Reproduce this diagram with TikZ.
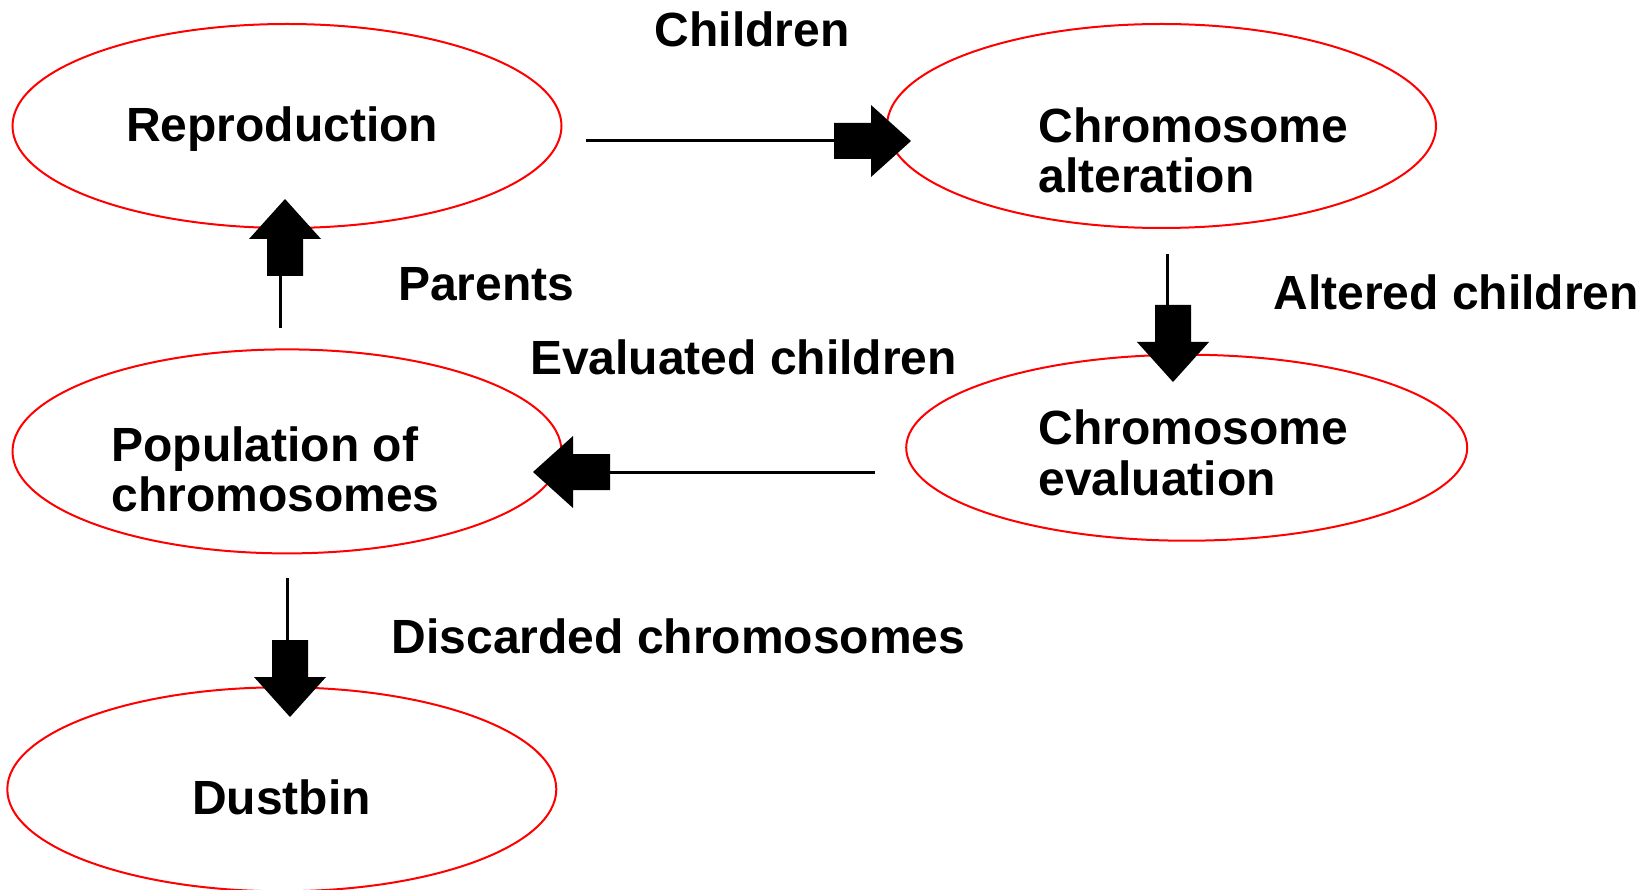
\documentclass[tikz,border=0pt]{standalone}
\usepackage{fontspec}
\setmainfont{Liberation Sans}
\usetikzlibrary{shapes.geometric}
\tikzset{
  stage/.style={draw=red, line width=2pt, shape=ellipse, inner sep=0pt},
  lbl/.style={font=\fontsize{48}{50.5}\selectfont\bfseries, inner sep=0pt, anchor=base west, align=left},
  conn/.style={line width=3pt},
  blockarrow/.pic={\fill (0,0) -- (-40,-36) -- (-40,-18) -- (-77,-18) -- (-77,18) -- (-40,18) -- (-40,36) -- cycle;}
}
\begin{document}
\begin{tikzpicture}[x=1pt,y=-1pt]
\useasboundingbox (0,0) rectangle (1646,890);
% ellipses
\node[stage, minimum width=549pt, minimum height=204pt] (repro) at (287,126) {};
\node[stage, minimum width=549pt, minimum height=204pt] (alter) at (1161.5,126) {};
\node[stage, minimum width=561pt, minimum height=186pt] (evalu) at (1186.7,447.7) {};
\node[stage, minimum width=549pt, minimum height=204pt] (popul) at (287,451.4) {};
\node[stage, minimum width=549pt, minimum height=204pt] (dust) at (281.8,789.3) {};
% labels inside (base anchor = last line)
\node[lbl] (trepro) at (126,142) {Reproduction};
\node[lbl] (talter) at (1038.3,193) {Chromosome\\alteration};
\node[lbl] (tevalu) at (1038.3,495) {Chromosome\\evaluation};
\node[lbl] (tpopul) at (111.3,511.5) {Population of\\chromosomes};
\node[lbl] (tdust) at (192,814.5) {Dustbin};
% connector labels
\node[lbl] (lchild) at (654.5,47) {Children};
\node[lbl] (lpar) at (398,300.5) {Parents};
\node[lbl] (lalt) at (1273.3,310) {Altered children};
\node[lbl] (leval) at (530,374) {Evaluated children};
\node[lbl] (ldisc) at (391.5,653) {Discarded chromosomes};
% connectors
\coordinate (a1s) at (586,141); \coordinate (a1e) at (834,141);
\draw[conn] (a1s) -- (a1e);
\pic (h1) at (911,141) {blockarrow};
\coordinate (a2s) at (1167,254); \coordinate (a2e) at (1167,306);
\draw[conn] (a2s) -- (a2e);
\pic[rotate=-90] (h2) at (1173,382) {blockarrow};
\coordinate (a3s) at (875,472); \coordinate (a3e) at (609,472);
\draw[conn] (a3s) -- (a3e);
\pic[rotate=180] (h3) at (533,472) {blockarrow};
\coordinate (a4s) at (280,328); \coordinate (a4e) at (280,273);
\draw[conn] (a4s) -- (a4e);
\pic[rotate=90] (h4) at (285,199) {blockarrow};
\coordinate (a5s) at (287,578); \coordinate (a5e) at (287,642);
\draw[conn] (a5s) -- (a5e);
\pic[rotate=-90] (h5) at (290,717) {blockarrow};
\end{tikzpicture}
\end{document}
